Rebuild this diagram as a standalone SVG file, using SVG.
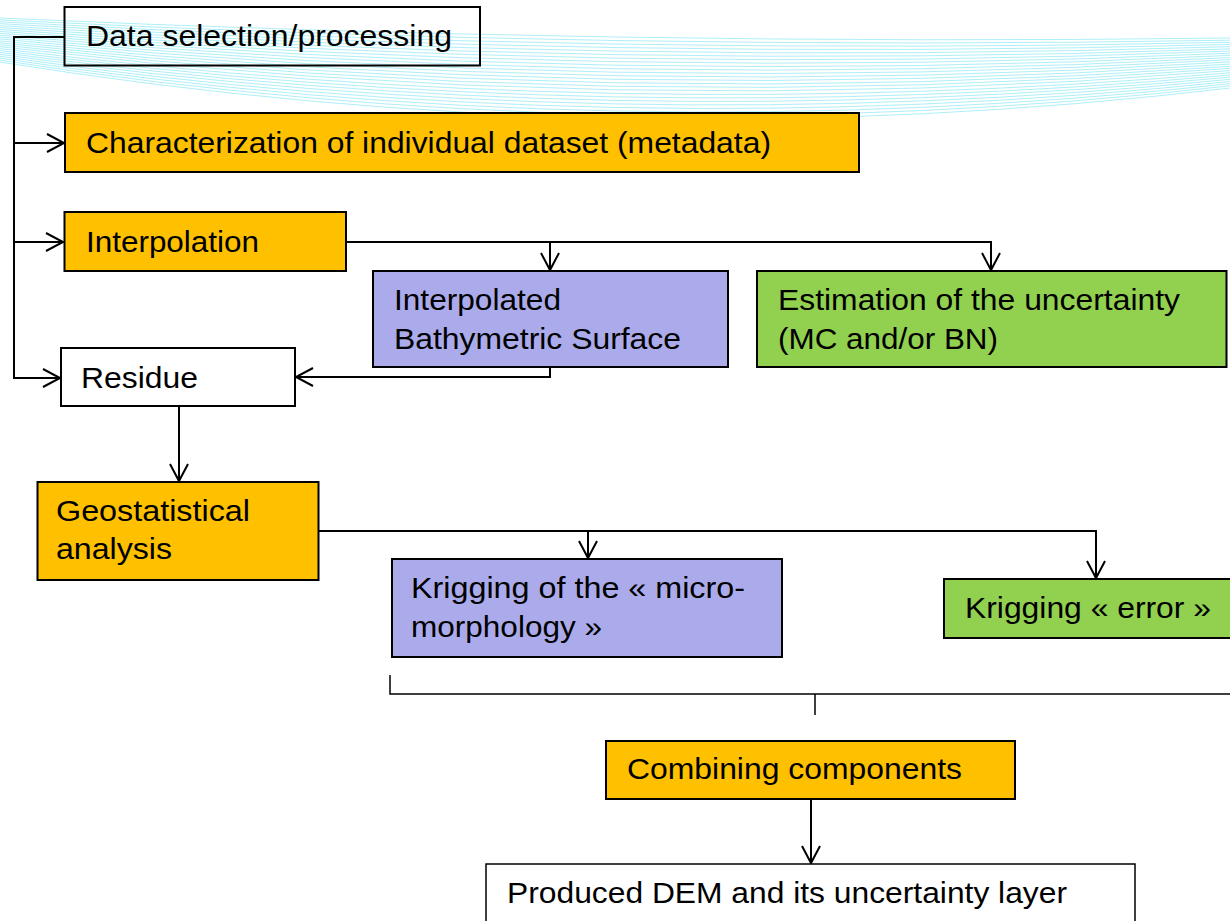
<svg xmlns="http://www.w3.org/2000/svg" width="1230" height="921" viewBox="0 0 1230 921">
<style>
.box{stroke:#000;stroke-width:2}
.w{fill:#fff}
.o{fill:#FFC000}
.p{fill:#ABABEB}
.g{fill:#92D050}
.t{font-family:"Liberation Sans",Arial,sans-serif;font-size:30px;fill:#000}
.c{fill:none;stroke:#000;stroke-width:2}
.cy{fill:none;stroke:#aeeff8;stroke-width:1}
</style>
<defs>
<marker id="arr" markerUnits="userSpaceOnUse" markerWidth="22" markerHeight="22" viewBox="0 0 22 22" refX="18" refY="10" orient="auto">
<path d="M1,1 L18,10 L1,19" fill="none" stroke="#000" stroke-width="2"/>
</marker>
</defs>
<rect width="1230" height="921" fill="#fff"/>
<g id="background-lines">
<path class="cy" d="M0,18 Q615,46 1230,38"/>
<path class="cy" d="M0,19.9 Q615,51 1230,40.2"/>
<path class="cy" d="M0,21.8 Q615,56 1230,42.3"/>
<path class="cy" d="M0,23.7 Q615,61 1230,44.5"/>
<path class="cy" d="M0,25.7 Q615,66 1230,46.7"/>
<path class="cy" d="M0,27.6 Q615,71 1230,48.9"/>
<path class="cy" d="M0,29.5 Q615,76 1230,51"/>
<path class="cy" d="M0,31.4 Q615,81 1230,53.2"/>
<path class="cy" d="M0,33.3 Q615,86 1230,55.4"/>
<path class="cy" d="M0,35.2 Q615,91 1230,57.6"/>
<path class="cy" d="M0,37.1 Q615,96 1230,59.7"/>
<path class="cy" d="M0,39 Q615,101 1230,61.9"/>
<path class="cy" d="M0,41 Q615,106 1230,64.1"/>
<path class="cy" d="M0,42.9 Q615,111 1230,66.3"/>
<path class="cy" d="M0,44.8 Q615,116 1230,68.4"/>
<path class="cy" d="M0,46.7 Q615,121 1230,70.6"/>
<path class="cy" d="M0,48.6 Q615,126 1230,72.8"/>
<path class="cy" d="M0,50.5 Q615,131 1230,75"/>
<path class="cy" d="M0,52.4 Q615,136 1230,77.1"/>
<path class="cy" d="M0,54.3 Q615,141 1230,79.3"/>
<path class="cy" d="M0,56.3 Q615,146 1230,81.5"/>
<path class="cy" d="M0,58.2 Q615,151 1230,83.7"/>
<path class="cy" d="M0,60.1 Q615,156 1230,85.8"/>
<path class="cy" d="M0,62 Q615,161 1230,88"/>
</g>
<g id="connectors">
<path class="c" d="M64,37 H14 V378 H60" marker-end="url(#arr)"/>
<path class="c" d="M14,143 H64" marker-end="url(#arr)"/>
<path class="c" d="M14,242 H63" marker-end="url(#arr)"/>
<path class="c" d="M346,242 H991 V270" marker-end="url(#arr)"/>
<path class="c" d="M550,242 V270" marker-end="url(#arr)"/>
<path class="c" d="M550,367 V377 H296" marker-end="url(#arr)"/>
<path class="c" d="M179,406 V481" marker-end="url(#arr)"/>
<path class="c" d="M319,531 H1096 V578" marker-end="url(#arr)"/>
<path class="c" d="M588,531 V558" marker-end="url(#arr)"/>
<path class="c" d="M390,675 V694 H1232" style="stroke-width:1.5"/>
<path class="c" d="M815,694 V715" style="stroke-width:1.5"/>
<path class="c" d="M811,799 V863" marker-end="url(#arr)"/>
</g>
<g id="data-selection">
<rect class="box" x="64.5" y="7" width="415.5" height="58.5" fill="none"/>
<text class="t" x="86" y="46" textLength="366" lengthAdjust="spacingAndGlyphs">Data selection/processing</text>
</g>
<g id="characterization">
<rect class="box o" x="65" y="113" width="794" height="59"/>
<text class="t" x="86" y="153" textLength="685" lengthAdjust="spacingAndGlyphs">Characterization of individual dataset (metadata)</text>
</g>
<g id="interpolation">
<rect class="box o" x="64.5" y="212" width="281.5" height="59"/>
<text class="t" x="86" y="252" textLength="173" lengthAdjust="spacingAndGlyphs">Interpolation</text>
</g>
<g id="interpolated-surface">
<rect class="box p" x="373" y="271" width="355" height="96"/>
<text class="t" x="394" y="310" textLength="167" lengthAdjust="spacingAndGlyphs">Interpolated</text>
<text class="t" x="394" y="349" textLength="287" lengthAdjust="spacingAndGlyphs">Bathymetric Surface</text>
</g>
<g id="estimation-uncertainty">
<rect class="box g" x="757" y="271" width="469.5" height="96"/>
<text class="t" x="778" y="310" textLength="402" lengthAdjust="spacingAndGlyphs">Estimation of the uncertainty</text>
<text class="t" x="778" y="349" textLength="220" lengthAdjust="spacingAndGlyphs">(MC and/or BN)</text>
</g>
<g id="residue">
<rect class="box w" x="61" y="348" width="234" height="58"/>
<text class="t" x="81" y="388" textLength="117" lengthAdjust="spacingAndGlyphs">Residue</text>
</g>
<g id="geostatistical">
<rect class="box o" x="37.5" y="482" width="281" height="98"/>
<text class="t" x="56" y="521" textLength="194" lengthAdjust="spacingAndGlyphs">Geostatistical</text>
<text class="t" x="56" y="559" textLength="116" lengthAdjust="spacingAndGlyphs">analysis</text>
</g>
<g id="krigging-micro">
<rect class="box p" x="392" y="559" width="390" height="98"/>
<text class="t" x="411" y="598" textLength="334" lengthAdjust="spacingAndGlyphs">Krigging of the « micro-</text>
<text class="t" x="411" y="637" textLength="191" lengthAdjust="spacingAndGlyphs">morphology »</text>
</g>
<g id="krigging-error">
<rect class="box g" x="944" y="579" width="300" height="59"/>
<text class="t" x="965" y="618" textLength="246" lengthAdjust="spacingAndGlyphs">Krigging « error »</text>
</g>
<g id="combining">
<rect class="box o" x="606" y="741" width="409" height="58"/>
<text class="t" x="627" y="779" textLength="335" lengthAdjust="spacingAndGlyphs">Combining components</text>
</g>
<g id="produced-dem">
<rect class="box w" x="486" y="864" width="649" height="70" style="stroke-width:1.5"/>
<text class="t" x="507" y="903" textLength="560" lengthAdjust="spacingAndGlyphs">Produced DEM and its uncertainty layer</text>
</g>
</svg>
